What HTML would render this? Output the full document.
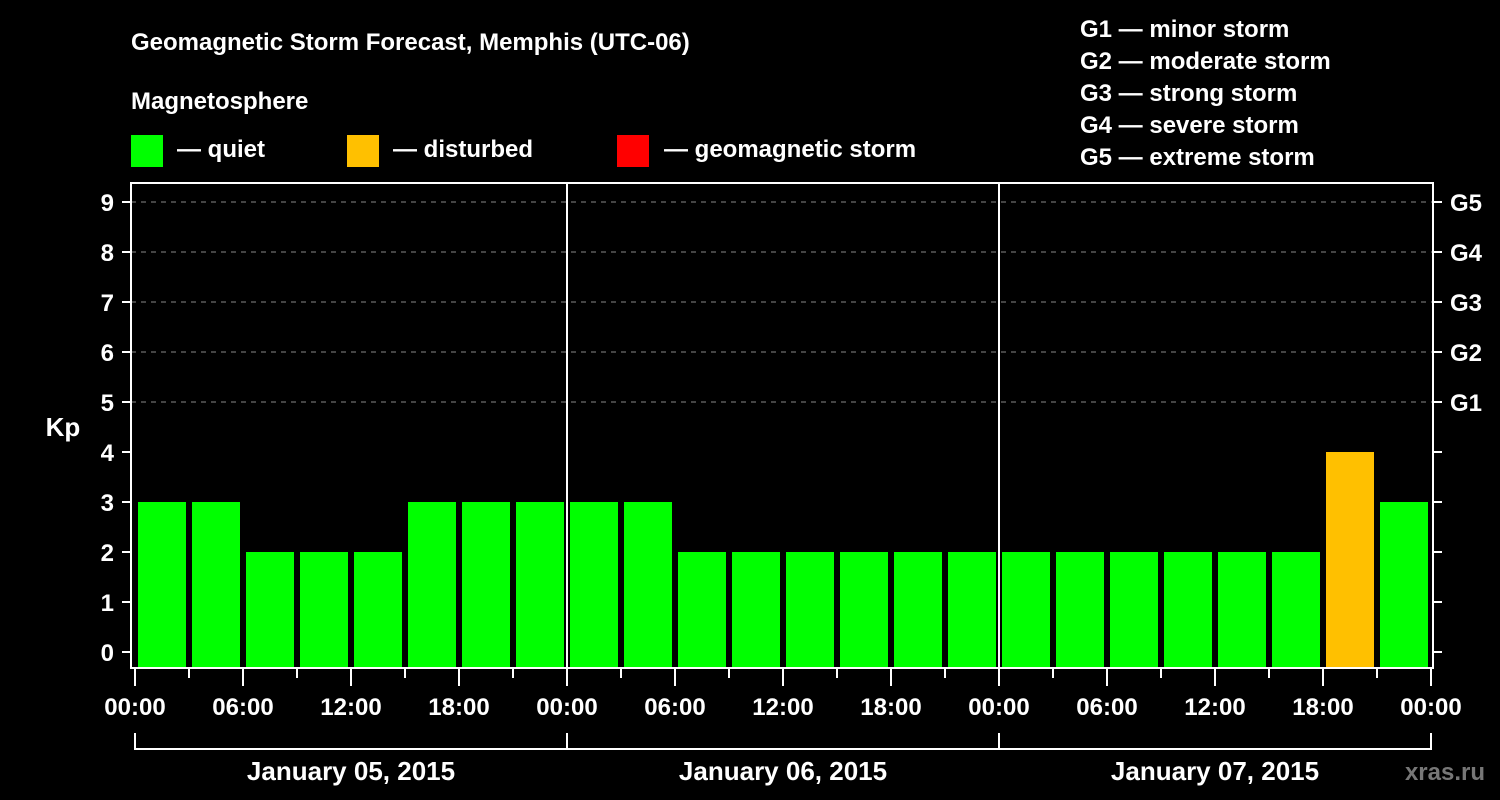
<!DOCTYPE html>
<html><head><meta charset="utf-8"><style>
html,body{margin:0;padding:0;background:#000;width:1500px;height:800px;overflow:hidden}
svg{display:block;font-family:"Liberation Sans",Arial,sans-serif;font-weight:bold}
</style></head><body>
<svg id="c" width="1500" height="800" xmlns="http://www.w3.org/2000/svg">
<text x="131" y="50" fill="#fff" font-size="24">Geomagnetic Storm Forecast, Memphis (UTC-06)</text>
<text x="131" y="109" fill="#fff" font-size="24">Magnetosphere</text>
<g><rect x="131" y="135" width="32" height="32" fill="#00ff00"/><text x="177" y="157" fill="#fff" font-size="24">— quiet</text></g>
<g><rect x="347" y="135" width="32" height="32" fill="#ffc000"/><text x="393" y="157" fill="#fff" font-size="24">— disturbed</text></g>
<g><rect x="617" y="135" width="32" height="32" fill="#ff0000"/><text x="664" y="157" fill="#fff" font-size="24">— geomagnetic storm</text></g>
<g fill="#fff" font-size="24">
<text x="1080" y="37">G1 — minor storm</text>
<text x="1080" y="69">G2 — moderate storm</text>
<text x="1080" y="101">G3 — strong storm</text>
<text x="1080" y="133">G4 — severe storm</text>
<text x="1080" y="165">G5 — extreme storm</text>
</g>
<text x="63" y="436" fill="#fff" font-size="26" text-anchor="middle">Kp</text>
<text x="1485" y="780" fill="#777" font-size="24" text-anchor="end">xras.ru</text>
<g id="g"></g>
</svg>
<script>
const kpValues=[3,3,2,2,2,3,3,3, 3,3,2,2,2,2,2,2, 2,2,2,2,2,2,4,3];
const dayLabels=["January 05, 2015","January 06, 2015","January 07, 2015"];
const hourLabels=["00:00","06:00","12:00","18:00"];
const yTicks=[0,1,2,3,4,5,6,7,8,9];
const gLabels=["G1","G2","G3","G4","G5"];
const NS="http://www.w3.org/2000/svg";
const g=document.getElementById('g');
const L=131,R=1433,T=183,B=668,X0=135,DAY=432;
const y=v=>652-50*v;
const x=h=>X0+h*DAY/24;
function mk(t,a,p){const e=document.createElementNS(NS,t);for(const k in a)e.setAttribute(k,a[k]);(p||g).appendChild(e);return e;}
// grid
for(let v=5;v<=9;v++){
 const l=mk('line',{x1:L,x2:R,y1:y(v),y2:y(v),stroke:'#888','stroke-width':1,'stroke-dasharray':'5,5'});
 
 
}
// bars
kpValues.forEach((v,i)=>{
 const c=v>=5?'#ff0000':v>=4?'#ffc000':'#00ff00';
 const r=mk('rect',{x:x(i*3)+3,y:y(v),width:48,height:B-y(v),fill:c});
 
 
});
// day separators
for(let d=1;d<dayLabels.length;d++){
 const l=mk('line',{x1:x(d*24),x2:x(d*24),y1:T,y2:B,stroke:'#fff','stroke-width':2});
 
 
}
// frame
const f=mk('rect',{x:L,y:T,width:R-L,height:B-T,fill:'none',stroke:'#fff','stroke-width':2});


// y ticks
yTicks.forEach(v=>{
 mk('line',{x1:122,x2:L,y1:y(v),y2:y(v),stroke:'#fff','stroke-width':2});
 mk('line',{x1:R,x2:1442,y1:y(v),y2:y(v),stroke:'#fff','stroke-width':2});
 const t=mk('text',{x:114,y:y(v)+9,fill:'#fff','font-size':24,'text-anchor':'end'});
 t.textContent=v;
 
 
});
gLabels.forEach((s,i)=>{
 const t=mk('text',{x:1450,y:y(5+i)+9,fill:'#fff','font-size':24});
 t.textContent=s;
 
 
});
// x ticks
const nh=dayLabels.length*24;
for(let h=0;h<=nh;h+=3){
 const major=h%6===0;
 mk('line',{x1:x(h),x2:x(h),y1:B,y2:major?686:678,stroke:'#fff','stroke-width':2});
 if(major){
  const t=mk('text',{x:x(h),y:715,fill:'#fff','font-size':24,'text-anchor':'middle'});
  t.textContent=hourLabels[(h%24)/6];
  
  
 }
}
// day brackets
mk('line',{x1:x(0),x2:x(nh),y1:749,y2:749,stroke:'#fff','stroke-width':2});
for(let d=0;d<=dayLabels.length;d++) mk('line',{x1:x(d*24),x2:x(d*24),y1:733,y2:750,stroke:'#fff','stroke-width':2});
dayLabels.forEach((s,d)=>{
 const t=mk('text',{x:x(d*24+12),y:780,fill:'#fff','font-size':26,'text-anchor':'middle'});
 t.textContent=s;
 
 
});
</script>
</body></html>
